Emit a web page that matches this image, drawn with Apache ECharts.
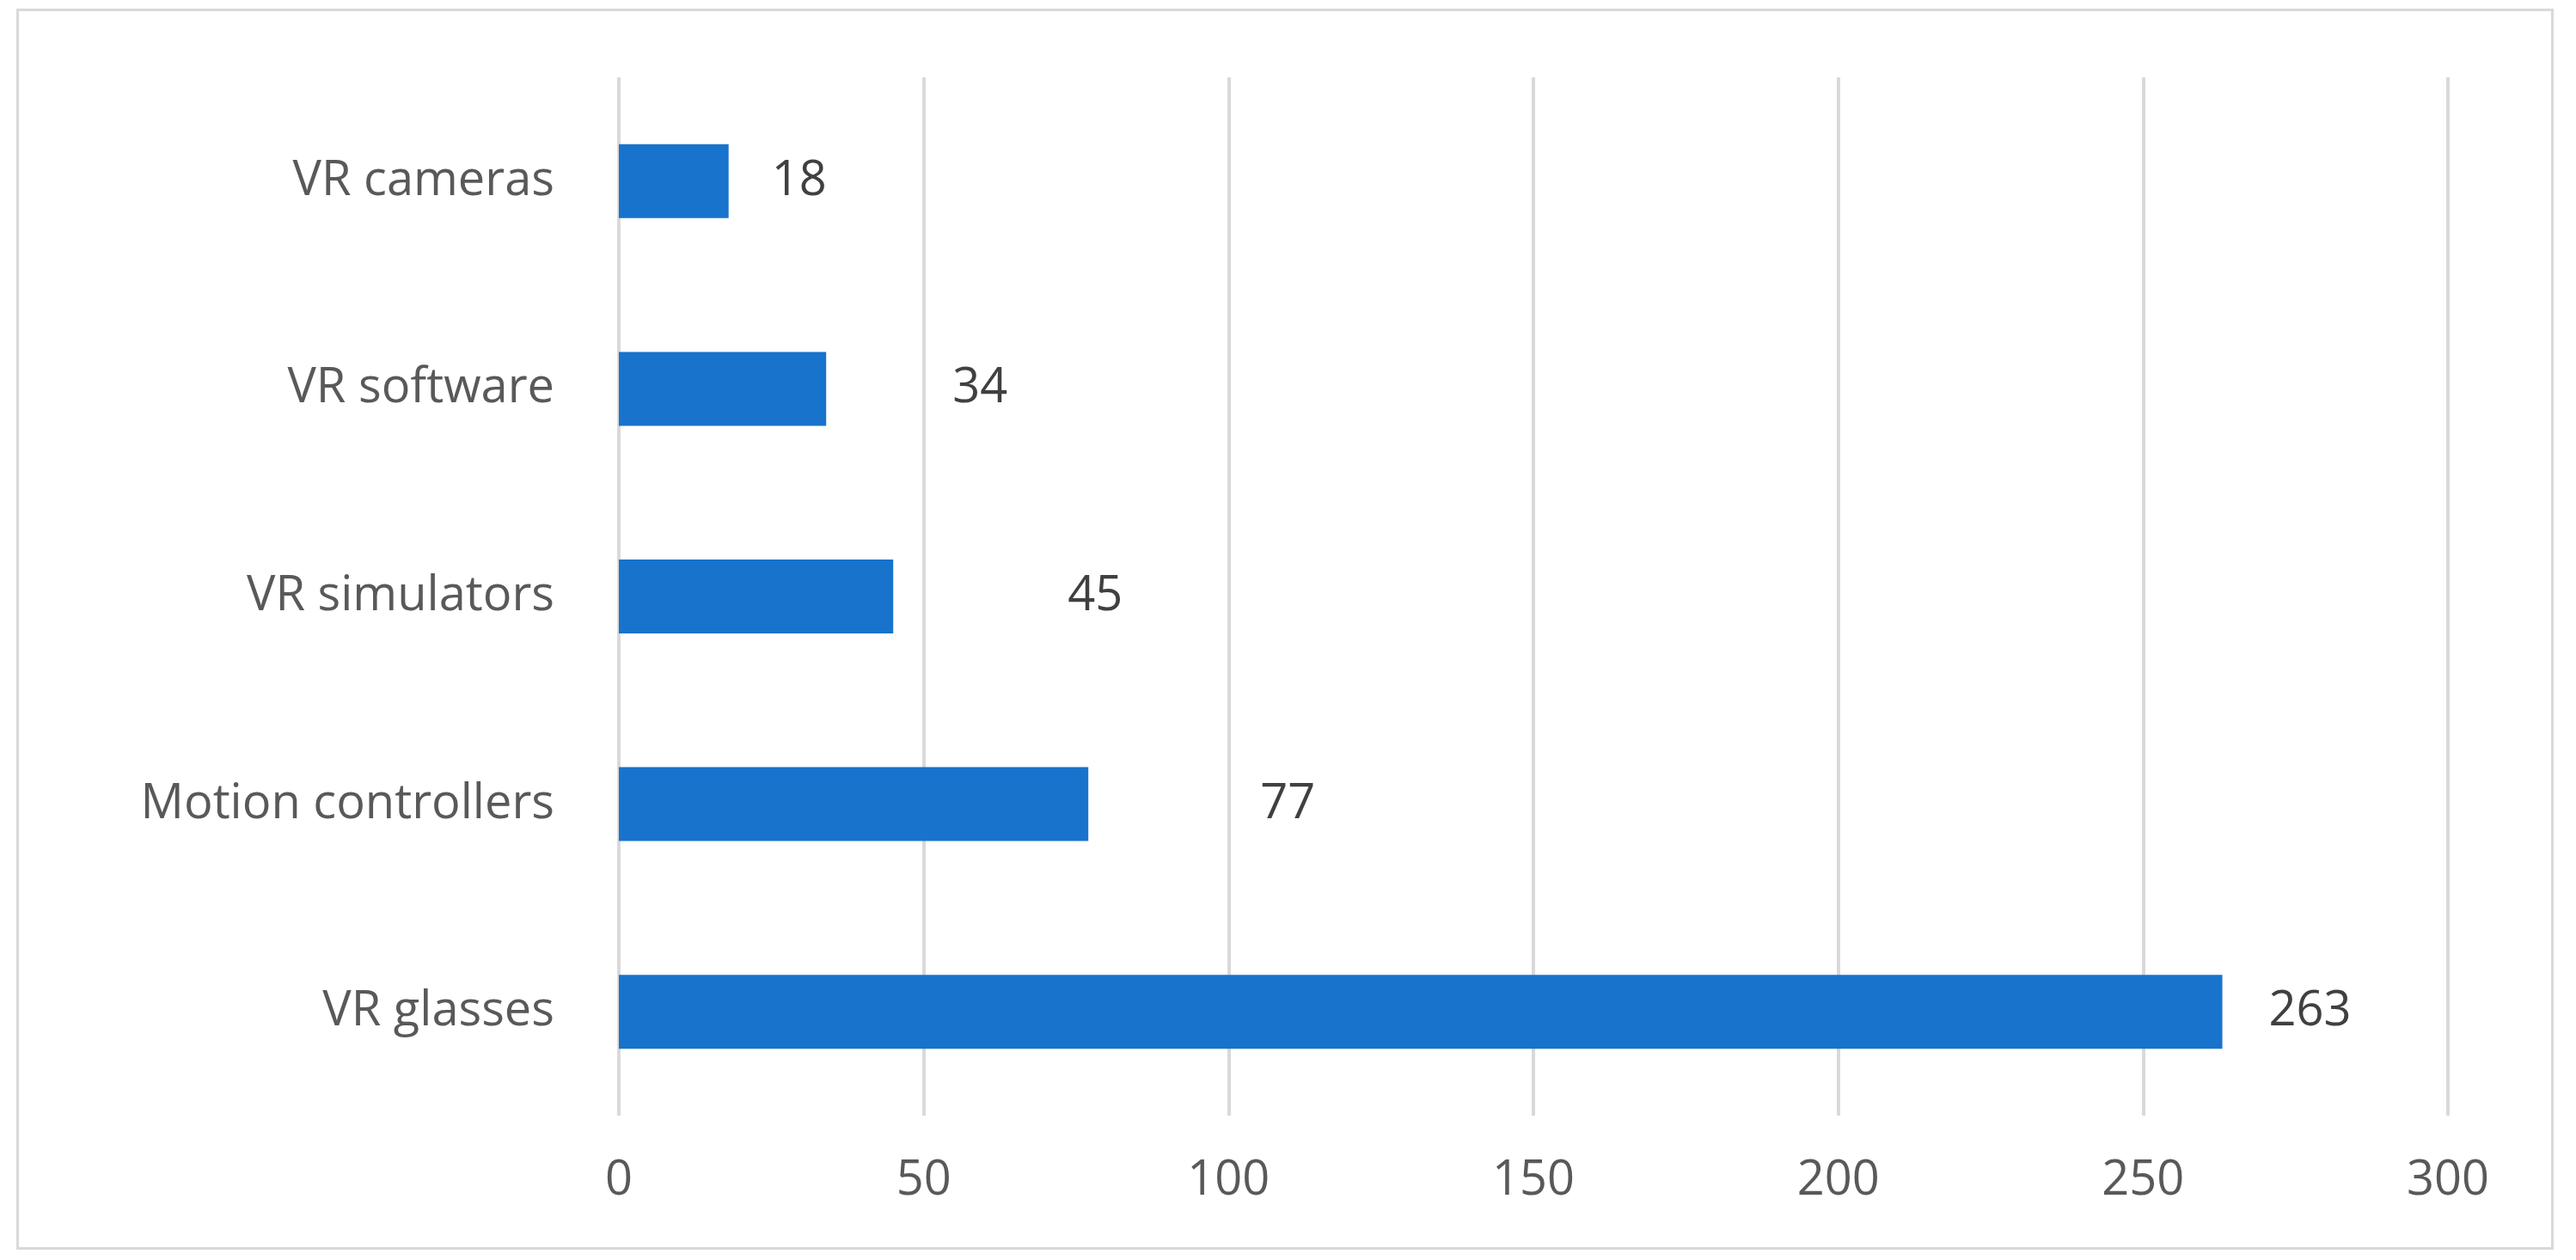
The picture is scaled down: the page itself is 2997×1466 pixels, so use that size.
<!DOCTYPE html>
<html><head><meta charset="utf-8">
<script src="https://cdn.jsdelivr.net/npm/echarts@6/dist/echarts.min.js"></script>
<style>html,body{margin:0;padding:0;background:#fff}#c{width:2997px;height:1466px}
#f{position:absolute;left:19px;top:10px;width:2952px;height:1444px;border:3px solid #d9d9d9;box-sizing:border-box}</style>
</head><body><div id="f"></div><div id="c"></div>
<script>
const categories = ["VR glasses","Motion controllers","VR simulators","VR software","VR cameras"];
const values = [263,77,45,34,18];
const labelDistances = [54,200,203,147,50];
const xTicks = [0,50,100,150,200,250,300];
const chart = echarts.init(document.getElementById('c'));
const font = "'Open Sans', 'Liberation Sans', sans-serif";
chart.setOption({
  animation:false,
  grid:{left:720,right:2997-2848,top:90,bottom:1466-1298,containLabel:false},
  xAxis:{type:'value',min:xTicks[0],max:xTicks[xTicks.length-1],interval:50,
    axisLine:{show:false},axisTick:{show:false},
    splitLine:{lineStyle:{color:'#d9d9d9',width:4}},
    axisLabel:{color:'#595959',fontSize:56,fontFamily:font,margin:48}},
  yAxis:{type:'category',data:categories,axisLine:{show:false},axisTick:{show:false},
    axisLabel:{color:'#595959',fontSize:56,fontFamily:font,margin:75}},
  series:[{type:'bar',barWidth:86,itemStyle:{color:'#1873CC'},
    data:values.map((v,i)=>({value:v,label:{show:true,position:'right',distance:labelDistances[i],
      color:'#404040',fontSize:56,fontFamily:font}}))}]
});
</script></body></html>
